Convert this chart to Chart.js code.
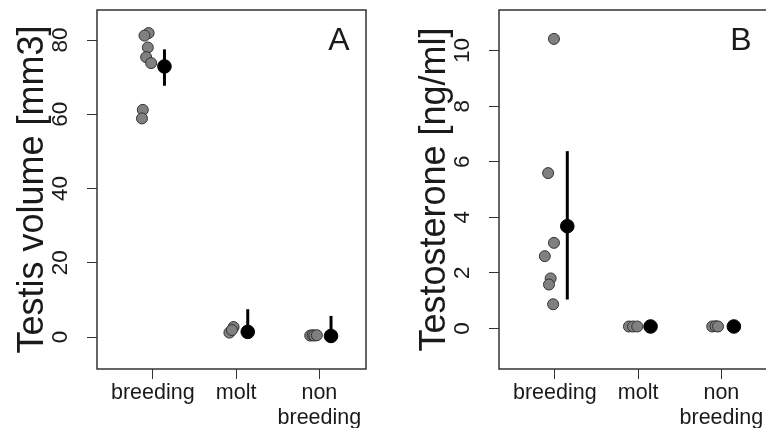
<!DOCTYPE html>
<html>
<head>
<meta charset="utf-8">
<script src="https://cdn.jsdelivr.net/npm/chart.js@4.4.0/dist/chart.umd.min.js"></script>
<style>
  html, body { margin: 0; padding: 0; background: #fff; width: 766px; height: 428px; overflow: hidden; }
  canvas { position: absolute; top: 0; }
</style>
</head>
<body>
<canvas id="chartA" width="402" height="428" style="left:0"></canvas>
<canvas id="chartB" width="402" height="428" style="left:402px"></canvas>
<script>
const groups = ['breeding', 'molt', ['non', 'breeding']]
const groupPos = [1, 2, 3]

// panel A: testis volume [mm3], single birds (jittered x as drawn)
const testisBreedX = [0.95, 0.90, 0.94, 0.92, 0.98, 0.88, 0.87]
const testisBreedY = [81.9, 81.2, 78.0, 75.4, 73.8, 61.2, 58.9]
const testisMoltX = [1.92, 1.97, 1.95]
const testisMoltY = [1.2, 2.7, 1.9]
const testisNonX = [2.89, 2.92, 2.94, 2.97]
const testisNonY = [0.4, 0.5, 0.4, 0.5]
// group means with bars
const testisMeanX = [1.14, 2.14, 3.14]
const testisMean = [72.9, 1.4, 0.3]
const testisLow = [67.7, 0, 0]
const testisHigh = [77.5, 7.5, 5.7]
const testisTicks = [0, 20, 40, 60, 80]

// panel B: testosterone [ng/ml]
const testoBreedX = [0.99, 0.92, 0.99, 0.88, 0.95, 0.93, 0.98]
const testoBreedY = [10.42, 5.59, 3.08, 2.60, 1.80, 1.58, 0.87]
const testoMoltX = [1.89, 1.94, 1.99]
const testoMoltY = [0.07, 0.07, 0.07]
const testoNonX = [2.89, 2.93, 2.96]
const testoNonY = [0.07, 0.08, 0.07]
const testoMeanX = [1.15, 2.15, 3.15]
const testoMean = [3.68, 0.07, 0.07]
const testoLow = [1.04, 0.03, 0.03]
const testoHigh = [6.38, 0.11, 0.11]
const testoTicks = [0, 2, 4, 6, 8, 10]

const FONT = '"Liberation Sans", Arial, sans-serif'
const INK = '#1a1a1a'

const zip = (xs, ys) => xs.map((x, i) => ({x: x, y: ys[i]}))

// draws the R style box, vertical y labels and the panel letter
const rStyle = {
  id: 'rStyle',
  afterDraw(chart, args, opts) {
    const {ctx, chartArea: a, scales} = chart
    ctx.save()
    ctx.strokeStyle = '#333'
    ctx.lineWidth = 1.5
    ctx.strokeRect(a.left, a.top, a.right - a.left, a.bottom - a.top)

    const y = scales.y
    ctx.fillStyle = INK
    ctx.font = '22.5px ' + FONT
    ctx.textAlign = 'center'
    ctx.textBaseline = 'middle'
    y.ticks.forEach(t => {
      const py = y.getPixelForValue(t.value)
      ctx.save()
      ctx.translate(a.left - 36, py)
      ctx.rotate(-Math.PI / 2)
      ctx.fillText(String(t.value), 0, 0)
      ctx.restore()
    })

    ctx.font = '32px ' + FONT
    ctx.fillText(opts.letter, a.right - 27, a.top + 31)
    ctx.restore()
  }
}

function makePanel(id, letter, title, yMin, yMax, yTicks, pts, meanX, mean, low, high) {
  const datasets = []
  pts.forEach(p => {
    datasets.push({
      type: 'scatter',
      data: p,
      backgroundColor: '#808080',
      borderColor: '#333',
      borderWidth: 1,
      pointRadius: 5.5,
      order: 2
    })
  })
  meanX.forEach((mx, i) => {
    datasets.push({
      type: 'line',
      data: [{x: mx, y: low[i]}, {x: mx, y: high[i]}],
      borderColor: '#000',
      borderWidth: 3,
      pointRadius: 0,
      fill: false,
      order: 1
    })
  })
  datasets.push({
    type: 'scatter',
    data: zip(meanX, mean),
    backgroundColor: '#000',
    borderColor: '#000',
    borderWidth: 1,
    pointRadius: 6.8,
    order: 0
  })

  return new Chart(document.getElementById(id), {
    type: 'scatter',
    data: {datasets: datasets},
    plugins: [rStyle],
    options: {
      responsive: false,
      animation: false,
      devicePixelRatio: 1,
      layout: {padding: {left: 0, top: 10, right: 36, bottom: 0}},
      plugins: {
        legend: {display: false},
        tooltip: {enabled: false},
        rStyle: {letter: letter}
      },
      scales: {
        x: {
          type: 'linear',
          min: 0.33,
          max: 3.56,
          afterBuildTicks: s => { s.ticks = groupPos.map(v => ({value: v})) },
          afterFit: s => { s.height = 59 },
          border: {display: false},
          grid: {drawOnChartArea: false, drawTicks: true, tickLength: 10, color: '#333', lineWidth: 1},
          ticks: {
            color: INK,
            padding: 2,
            maxRotation: 0,
            autoSkip: false,
            font: {family: FONT, size: 21.5, lineHeight: 1.16},
            callback: v => groups[groupPos.indexOf(v)]
          }
        },
        y: {
          type: 'linear',
          min: yMin,
          max: yMax,
          afterBuildTicks: s => { s.ticks = yTicks.map(v => ({value: v})) },
          afterFit: s => { s.width = 97 },
          border: {display: false},
          grid: {drawOnChartArea: false, drawTicks: true, tickLength: 10, color: '#333', lineWidth: 1},
          ticks: {display: false},
          title: {
            display: true,
            text: title,
            color: INK,
            padding: {top: 11, bottom: 0},
            font: {family: FONT, size: 36, lineHeight: 1.2}
          }
        }
      }
    }
  })
}

makePanel('chartA', 'A', 'Testis volume [mm3]', -8.6, 88.1, testisTicks,
  [zip(testisBreedX, testisBreedY), zip(testisMoltX, testisMoltY), zip(testisNonX, testisNonY)],
  testisMeanX, testisMean, testisLow, testisHigh)

makePanel('chartB', 'B', 'Testosterone [ng/ml]', -1.46, 11.46, testoTicks,
  [zip(testoBreedX, testoBreedY), zip(testoMoltX, testoMoltY), zip(testoNonX, testoNonY)],
  testoMeanX, testoMean, testoLow, testoHigh)
</script>
</body>
</html>
